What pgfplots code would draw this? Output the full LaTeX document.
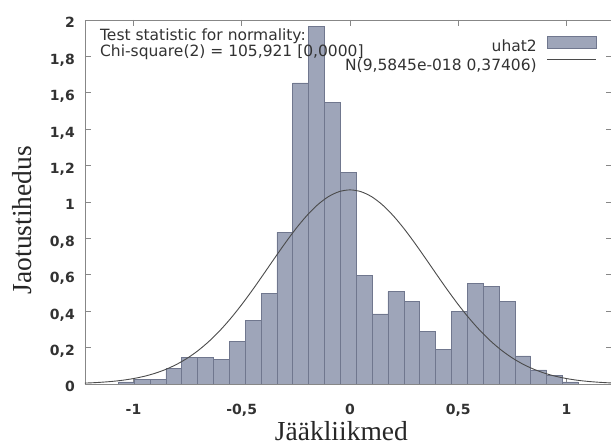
\documentclass[border=0pt]{standalone}
\usepackage{fontspec}
\setmainfont{Liberation Serif}
\newfontfamily\sansf{DejaVu Sans}
\usepackage{pgfplots}
\pgfplotsset{compat=1.18}

\definecolor{barfill}{RGB}{158,165,185}
\definecolor{baredge}{RGB}{112,119,142}
\definecolor{curvecol}{RGB}{75,75,75}
\definecolor{framecol}{RGB}{135,135,135}
\definecolor{textcol}{RGB}{50,50,50}

\begin{document}
\begin{tikzpicture}
\begin{axis}[
  name=ax,
  scale only axis,
  width=526.5pt, height=364pt,
  xmin=-1.224, xmax=1.208,
  ymin=0, ymax=2,
  xtick={-1,-0.5,0,0.5,1},
  ytick={0,0.2,0.4,0.6,0.8,1,1.2,1.4,1.6,1.8,2},
  tick align=inside,
  major tick length=6pt,
  tick style={framecol, line width=0.8pt},
  axis line style={framecol, line width=0.8pt},
  /pgf/number format/use comma,
  /pgf/number format/assume math mode=true,
  ticklabel style={font=\sansf\bfseries\fontsize{14}{14}\selectfont, text=textcol},
  xticklabel style={anchor=base, inner sep=0pt, yshift=-31pt},
  yticklabel style={anchor=base east, inner sep=0pt, xshift=-10pt, yshift=-8pt},
  xlabel={Jääkliikmed},
  ylabel={Jaotustihedus},
  label style={font=\fontsize{27.5}{30}\selectfont, text=black!85, inner sep=0pt},
  xlabel style={at={(axis description cs:0.487,-0.1566)}, anchor=base},
  ylabel style={at={(axis description cs:-0.101,0.4505)}, anchor=base, rotate=0},
  legend plot pos=right,
  legend cell align=right,
  legend style={at={(0.978,0.962)}, anchor=north east, draw=none, fill=none,
    font=\sansf\fontsize{15.5}{15.5}\selectfont, text=textcol,
    nodes={inner sep=0pt, text height=11pt, text depth=4pt},
    row sep=4pt,
    /tikz/every odd column/.append style={column sep=10pt}},
]

% residual histogram: left bin edge, density
\addplot[ybar interval, fill=barfill, draw=baredge, line width=0.6pt,
  legend image code/.code={\draw[fill=barfill, draw=baredge, line width=0.6pt] (0pt,-0.5pt) rectangle (49pt,11.5pt);}]
  coordinates {
  (-1.0702,0.012) (-0.9969,0.025) (-0.9237,0.025) (-0.8504,0.086)
  (-0.7771,0.146) (-0.7039,0.146) (-0.6306,0.137) (-0.5573,0.236)
  (-0.4840,0.348) (-0.4108,0.498) (-0.3375,0.833) (-0.2642,1.654)
  (-0.1910,1.966) (-0.1177,1.548) (-0.0444,1.161) (0.0288,0.595)
  (0.1021,0.385) (0.1754,0.507) (0.2487,0.452) (0.3219,0.287)
  (0.3952,0.190) (0.4685,0.401) (0.5417,0.553) (0.6150,0.538)
  (0.6883,0.456) (0.7615,0.154) (0.8348,0.077) (0.9081,0.046)
  (0.9814,0.012) (1.0546,0.012)
  };
\addlegendentry{uhat2}

% normal density with mean 9.5845e-18 and sd 0.37406
\addplot[curvecol, line width=0.9pt, smooth, no marks,
  legend image code/.code={\draw[curvecol, line width=0.9pt] (0pt,7pt) -- (49pt,7pt);}]
  coordinates {
  (-1.25,0.0040) (-1.20,0.0062) (-1.15,0.0095) (-1.10,0.0141) (-1.05,0.0207)
  (-1.00,0.0299) (-0.95,0.0424) (-0.90,0.0590) (-0.85,0.0807) (-0.80,0.1083)
  (-0.75,0.1429) (-0.70,0.1851) (-0.65,0.2357) (-0.60,0.2946) (-0.55,0.3618)
  (-0.50,0.4365) (-0.45,0.5172) (-0.40,0.6021) (-0.35,0.6884) (-0.30,0.7731)
  (-0.25,0.8530) (-0.20,0.9244) (-0.15,0.9841) (-0.10,1.0291) (-0.05,1.0570)
  (0.00,1.0665)
  (0.05,1.0570) (0.10,1.0291) (0.15,0.9841) (0.20,0.9244) (0.25,0.8530)
  (0.30,0.7731) (0.35,0.6884) (0.40,0.6021) (0.45,0.5172) (0.50,0.4365)
  (0.55,0.3618) (0.60,0.2946) (0.65,0.2357) (0.70,0.1851) (0.75,0.1429)
  (0.80,0.1083) (0.85,0.0807) (0.90,0.0590) (0.95,0.0424) (1.00,0.0299)
  (1.05,0.0207) (1.10,0.0141) (1.15,0.0095) (1.20,0.0062) (1.25,0.0040)
  };
\addlegendentry{N(9,5845e-018 0,37406)}

\node[anchor=base west, inner sep=0pt, font=\sansf\fontsize{15.5}{15.5}\selectfont, text=textcol]
  at (axis cs:-1.155,1.885) {Test statistic for normality:};
\node[anchor=base west, inner sep=0pt, font=\sansf\fontsize{15.5}{15.5}\selectfont, text=textcol]
  at (axis cs:-1.155,1.797) {Chi-square(2) = 105,921 [0,0000]};
\end{axis}
\pgfresetboundingbox
\useasboundingbox ([xshift=-85pt,yshift=-62pt]ax.south west) rectangle ([xshift=-0.5pt,yshift=20pt]ax.north east);
\end{tikzpicture}
\end{document}
